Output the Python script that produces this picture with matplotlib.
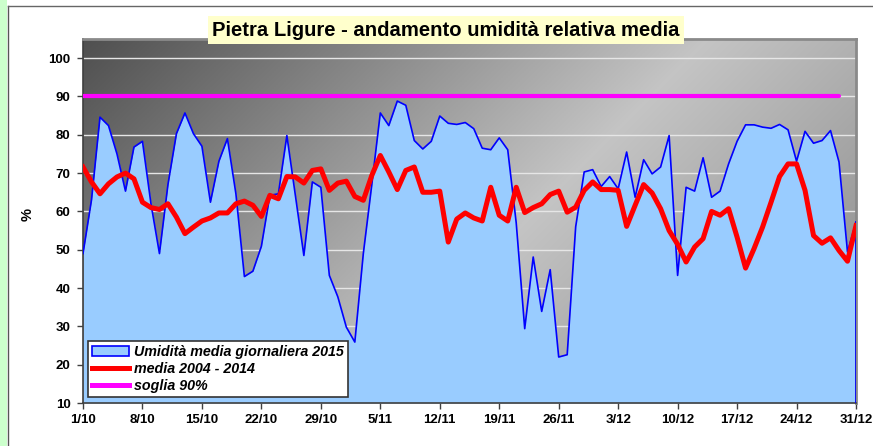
import matplotlib
matplotlib.use('Agg')
import numpy as np
import pandas as pd
import matplotlib.pyplot as plt
from matplotlib.patches import Patch, Rectangle
from matplotlib.lines import Line2D

plt.rcParams['font.family'] = ['Liberation Sans', 'DejaVu Sans']

# ── Data: Pietra Ligure, daily mean relative humidity, Oct-Dec 2015 ─────────
dates = pd.date_range('2015-10-01', '2015-12-31', freq='D')

umid_2015 = [49, 63, 84.6, 82.4, 75, 65.3, 76.8, 78.3, 62, 49,
             67, 80.3, 85.7, 80.3, 77, 62.4, 73.1, 79, 64.6, 43,
             44.4, 50.9, 64.2, 64.6, 79.8, 64.2, 48.5, 67.7, 66.3, 43.3,
             37.7, 29.8, 25.9, 49, 67, 85.7, 82.4, 88.8, 87.7, 78.5,
             76.3, 78.3, 84.9, 83, 82.7, 83.2, 81.6, 76.5, 76.1, 79.2,
             76.1, 57, 29.4, 48.1, 33.9, 44.8, 22, 22.6, 56, 70.3,
             70.9, 66.5, 69.1, 65.9, 75.5, 63.7, 73.5, 69.8, 71.6, 79.8,
             43.3, 66.3, 65.3, 74, 63.7, 65.3, 72.4, 78.3, 82.6, 82.6,
             82, 81.7, 82.7, 81.3, 73.1, 80.9, 77.8, 78.5, 81.1, 72.9,
             49.4, 57.2]

media_0414 = [71.6, 67.7, 64.6, 67.2, 69, 70, 68.5, 62.4, 61, 60.5,
              62, 58.5, 54.2, 55.9, 57.5, 58.3, 59.6, 59.6, 62, 62.7,
              61.6, 58.7, 64.2, 63.3, 69.1, 69, 67.4, 70.7, 71.1, 65.5,
              67.4, 67.9, 63.9, 62.9, 69.4, 74.6, 70.3, 65.7, 70.7, 71.6,
              65, 65, 65.3, 52, 58, 59.6, 58.3, 57.5, 66.3, 59,
              57.5, 66.3, 59.7, 61, 62, 64.4, 65.3, 59.8, 61.1, 65.5,
              67.7, 65.7, 65.7, 65.5, 56.1, 61.6, 67, 64.8, 60.7, 55,
              51.4, 46.8, 50.7, 52.9, 60, 59, 60.7, 53.3, 45.2, 50.3,
              55.9, 62.4, 69.1, 72.4, 72.4, 65.5, 53.7, 51.7, 53.1, 49.8,
              47, 56.3]

soglia = [90] * 90

x = np.arange(len(dates))
tick_idx = x[::7]
tick_labels = [f'{d.day}/{d.month}' for d in dates[::7]]

# ── Figure ──────────────────────────────────────────────────────────────────
fig = plt.figure(figsize=(8.73, 4.46), dpi=100)
fig.patch.set_facecolor('white')

# green strip on the left + frame lines
fig.patches.append(Rectangle((0, 0), 7 / 873, 1, transform=fig.transFigure,
                             fc='#ccffcc', ec='none', zorder=0))
fig.add_artist(Line2D([8 / 873, 8 / 873], [0, 1 - 6 / 446], transform=fig.transFigure,
                      color='#555555', lw=1))
fig.add_artist(Line2D([8 / 873, 1], [1 - 6 / 446, 1 - 6 / 446], transform=fig.transFigure,
                      color='#666666', lw=1))

ax = fig.add_axes([83 / 873, 43 / 446, 773 / 873, 364 / 446])
ax.set_xlim(0, 91)
ax.set_ylim(10, 105)

# diagonal gradient background (dark corner -> light band -> darker)
h, w = 200, 400
uu, vv = np.meshgrid(np.linspace(0, 1, w), np.linspace(0, 1, h))
t = (uu * 773 + vv * 364) / (773 + 364)
shade = np.interp(t, [0, 0.55, 1], [0.31, 0.77, 0.52])
img = np.dstack([shade, shade, shade])
ax.imshow(img, extent=[0, 1, 0, 1], transform=ax.transAxes, aspect='auto',
          zorder=0, origin='upper')

for g in range(20, 101, 10):
    ax.axhline(g, color='#e6e6e6', lw=1, zorder=1)

ax.fill_between(x, 10, umid_2015, color='#99ccff', lw=0, zorder=2)
ax.plot(x, umid_2015, color='#0000ff', lw=1.2, zorder=3)
ax.plot([x[-1], x[-1]], [10, umid_2015[-1]], color='#0000ff', lw=2, zorder=3)
ax.plot(x, media_0414, color='#ff0000', lw=3.6, solid_joinstyle='round', zorder=4)
ax.plot(x[:len(soglia)], soglia, color='#ff00ff', lw=3, solid_capstyle='round', zorder=4)

# axes styling
ax.set_yticks(range(10, 101, 10))
ax.set_xticks(tick_idx)
ax.set_xticklabels(tick_labels)
ax.tick_params(axis='both', direction='out', length=4, width=1, color='#404040',
               labelsize=9.5, pad=4)
for lab in ax.get_xticklabels() + ax.get_yticklabels():
    lab.set_fontweight('bold')
ax.tick_params(axis='y', pad=5)
for s in ['left', 'bottom']:
    ax.spines[s].set_color('#404040')
    ax.spines[s].set_linewidth(1.2)
for s in ['top', 'right']:
    ax.spines[s].set_color('#8a8a8a')
    ax.spines[s].set_linewidth(2)

fig.text(28 / 873, 1 - 215 / 446, '%', rotation=90, fontsize=10.5, fontweight='bold',
         ha='center', va='center')

# legend
handles = [Patch(fc='#99ccff', ec='#0000ff', lw=1.2),
           Line2D([], [], color='#ff0000', lw=3.6),
           Line2D([], [], color='#ff00ff', lw=3.6)]
labels = ['Umidità media giornaliera 2015', 'media 2004 - 2014', 'soglia 90%']
leg = ax.legend(handles, labels, loc='lower left', bbox_to_anchor=(5 / 773, 6 / 364),
                fancybox=False, framealpha=1, edgecolor='#333333',
                prop={'style': 'italic', 'weight': 'bold', 'size': 10.3},
                handlelength=2.6, handletextpad=0.3, labelspacing=0.2,
                borderpad=0.3, borderaxespad=0)
leg.get_frame().set_linewidth(1.2)
leg.set_zorder(10)

# title
fig.text(446 / 873, 1 - 30 / 446, 'Pietra Ligure - andamento umidità relativa media',
         fontsize=14.6, fontweight='bold', ha='center', va='center',
         bbox=dict(boxstyle='square,pad=0.22', fc='#ffffcc', ec='none'))

plt.savefig('out.png', dpi=100)
plt.close()
print("Saved: out.png")
